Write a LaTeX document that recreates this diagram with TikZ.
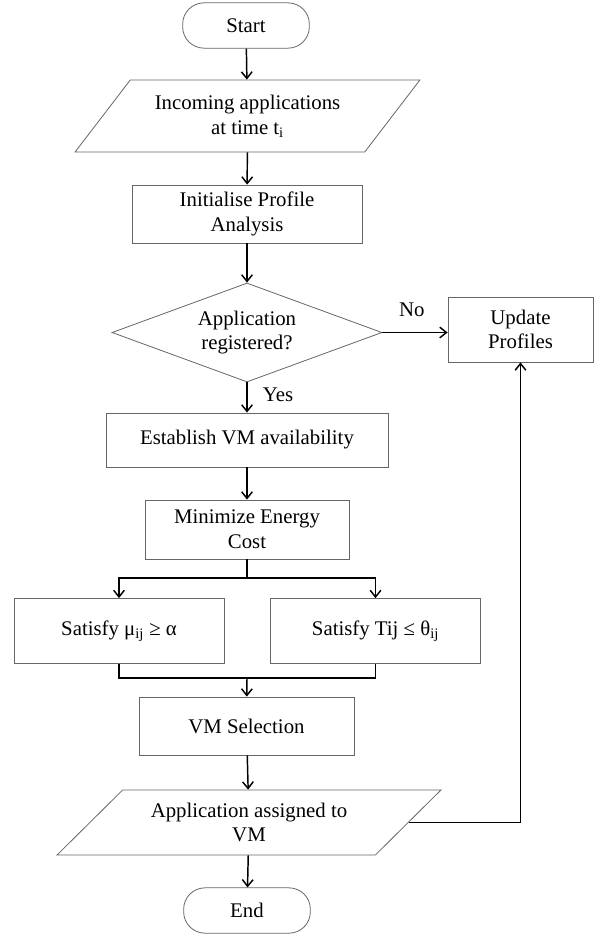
\documentclass[tikz,border=0pt]{standalone}
\usepackage{fontspec}
\setmainfont{Liberation Serif}
\usetikzlibrary{shapes.geometric,arrows.meta}

\begin{document}
\begin{tikzpicture}[x=0.75pt,y=-0.75pt,
    every node/.style={font=\fontsize{15.6}{18.5}\selectfont, align=center},
    box/.style={draw=black!60, line width=0.6pt, rectangle, inner sep=2pt},
    term/.style={box, rounded corners=16pt, minimum width=95pt, minimum height=34pt},
    io/.style={draw=black!60, line width=0.6pt, trapezium, trapezium stretches=true, inner sep=2pt},
    decide/.style={draw=black!60, line width=0.6pt, diamond, aspect=2.7, inner sep=0pt},
    flow/.style={line width=1.1pt, -{Straight Barb[length=5pt,width=8pt]}},
    link/.style={line width=1.1pt}]
  \useasboundingbox (0,0) rectangle (598,936);

  % main column
  \node[term] (start) at (246,25.5) {Start};
  \node[io, trapezium left angle=46.6, trapezium right angle=133.4,
        minimum width=259pt, minimum height=54pt] (incoming) at (247.5,116)
        {Incoming applications\\at time t\textsubscript{i}};
  \node[box, minimum width=172.5pt, minimum height=43.5pt] (init) at (247,214) {Initialise Profile\\Analysis};
  \node[decide, minimum width=202.5pt, minimum height=74.25pt] (reg) at (247,332.5) {Application\\registered?};
  \node[box, minimum width=108.75pt, minimum height=48.75pt] (update) at (520.5,329.5) {Update\\Profiles};
  \node[box, minimum width=211.5pt, minimum height=40.5pt] (avail) at (247,440) {Establish VM availability};
  \node[box, minimum width=153pt, minimum height=44.25pt] (energy) at (247,529.5) {Minimize Energy\\Cost};
  \node[box, minimum width=157.5pt, minimum height=48.75pt] (mu) at (119,631) {Satisfy μ\textsubscript{ij} ≥ α};
  \node[box, minimum width=157.5pt, minimum height=48.75pt] (theta) at (375.5,631) {Satisfy Tij ≤ θ\textsubscript{ij}};
  \node[box, minimum width=161.25pt, minimum height=43.5pt] (select) at (246.5,726) {VM Selection};
  \node[io, trapezium left angle=40.5, trapezium right angle=139.5,
        minimum width=288pt, minimum height=48.75pt] (assign) at (249,822.5)
        {Application assigned to\\VM};
  \node[term] (end) at (247,910.5) {End};

  % connectors
  \draw[flow] (start) -- (incoming);
  \draw[flow] (incoming) -- (init);
  \draw[flow] (init) -- (reg);
  \draw[flow] (reg.east) -- (reg.east -| update.west) node[pos=0.45, above=8pt] {No};
  \draw[flow] (reg) -- (avail) node[midway, right=8pt, yshift=2pt] {Yes};
  \draw[flow] (avail) -- (energy);

  \coordinate (split) at (247,578);
  \draw[link] (energy) -- (split);
  \draw[flow] (split) -| (mu);
  \draw[flow] (split) -| (theta);

  \coordinate (merge) at (247,678);
  \draw[link] (mu) |- (merge) -| (theta);
  \draw[flow] (merge) -- (select);

  \draw[flow] (select) -- (assign);
  \draw[flow] (assign.east) -| (update);
  \draw[flow] (assign) -- (end);
\end{tikzpicture}
\end{document}
